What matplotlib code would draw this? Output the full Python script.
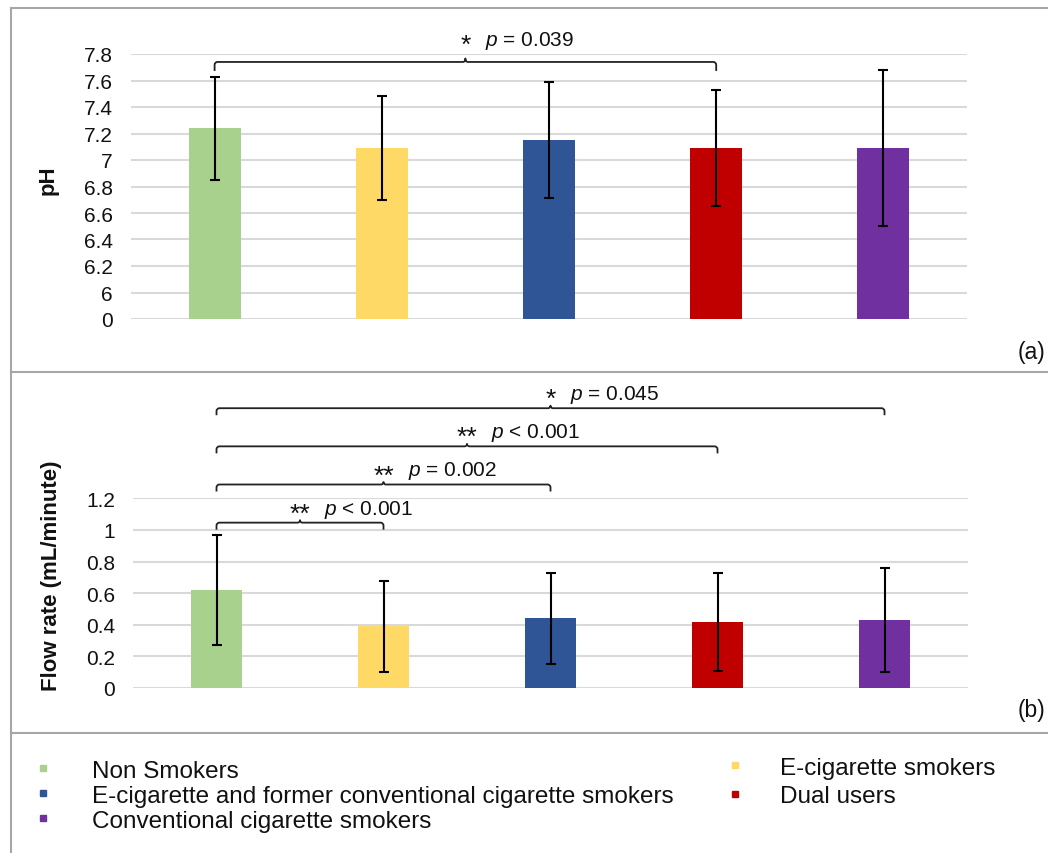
import numpy as np
import matplotlib
matplotlib.use("Agg")
import matplotlib.pyplot as plt
from matplotlib.path import Path
from matplotlib.patches import PathPatch
from matplotlib.lines import Line2D
from matplotlib.transforms import IdentityTransform
from matplotlib.ticker import FuncFormatter, FixedLocator

plt.rcParams['font.family'] = ['Liberation Sans', 'DejaVu Sans']
plt.rcParams['mathtext.fontset'] = 'custom'
plt.rcParams['mathtext.it'] = 'Liberation Sans:italic'
plt.rcParams['mathtext.rm'] = 'Liberation Sans'

# ---------------- data ----------------
groups = ["Non Smokers", "E-cigarette smokers",
          "E-cigarette and former conventional cigarette smokers",
          "Dual users", "Conventional cigarette smokers"]
colors = ["#A9D18E", "#FFD966", "#2F5597", "#C00000", "#7030A0"]

ph_mean = [7.24, 7.09, 7.15, 7.09, 7.09]
ph_sd = [0.39, 0.39, 0.44, 0.44, 0.59]
ph_ticks = [0, 6, 6.2, 6.4, 6.6, 6.8, 7, 7.2, 7.4, 7.6, 7.8]

flow_mean = [0.62, 0.39, 0.44, 0.42, 0.43]
flow_sd = [0.35, 0.29, 0.29, 0.31, 0.33]
flow_ticks = [0, 0.2, 0.4, 0.6, 0.8, 1, 1.2]

ph_comparisons = [(0, 3, "*", "= 0.039")]
flow_comparisons = [(0, 1, "**", "< 0.001"), (0, 2, "**", "= 0.002"),
                    (0, 3, "**", "< 0.001"), (0, 4, "*", "= 0.045")]

# ---------------- layout helpers ----------------
W, H = 1048, 854
fig = plt.figure(figsize=(W / 100, H / 100), dpi=100)


def fx(px):
    return px / W


def fy(py):
    return 1 - py / H


TXT = "#111111"
GRID = "#d9d9d9"


# broken pH scale: 0 -> 0, 6..7.8 linear with 0.2 per step
def fwd(v):
    v = np.asarray(v, dtype=float)
    return np.where(v < 6, v / 6.0, 1 + (v - 6) / 0.2)


def inv(t):
    t = np.asarray(t, dtype=float)
    return np.where(t < 1, t * 6.0, 6 + (t - 1) * 0.2)


axA = fig.add_axes([fx(131), fy(320), fx(967) - fx(131), (320 - 55) / H])
axB = fig.add_axes([fx(133), fy(689), fx(968) - fx(133), (689 - 499.3) / H])

axA.set_yscale('function', functions=(fwd, inv))
axA.set_ylim(0, 7.8)
axB.set_ylim(0, 1.2)

x = np.arange(len(groups))
fmt = FuncFormatter(lambda v, p: "%g" % round(v, 2))

for ax, mean, sd, ticks in [(axA, ph_mean, ph_sd, ph_ticks),
                            (axB, flow_mean, flow_sd, flow_ticks)]:
    ax.bar(x, mean, width=0.31, color=colors, zorder=2)
    ax.errorbar(x, mean, yerr=sd, fmt='none', ecolor='black',
                elinewidth=1.5, capsize=3.8, capthick=1.5, zorder=3)
    ax.set_xlim(-0.5, 4.5)
    ax.yaxis.set_major_locator(FixedLocator(ticks))
    ax.yaxis.set_major_formatter(fmt)
    ax.set_xticks([])
    ax.tick_params(axis='y', length=0, pad=13, labelsize=15, labelcolor=TXT)
    ax.grid(axis='y', color=GRID, linewidth=1.5)
    ax.set_axisbelow(True)
    for s in ax.spines.values():
        s.set_visible(False)

axA.set_ylabel("pH", fontsize=16, fontweight='bold', color=TXT, va='center')
axA.yaxis.set_label_coords((48 - 131) / 836, (320 - 180) / 265)
axB.set_ylabel("Flow rate (mL/minute)", fontsize=16, fontweight='bold',
               color=TXT, va='center')
axB.yaxis.set_label_coords((52 - 133) / 835, (689 - 576) / 189.7)


def bracket(ax, i0, i1, y, hook=7, cusp=3, r=3, stars="*", ptext="",
            gap=9, poff=19):
    X0, Y = ax.transData.transform((i0, y))
    X1, _ = ax.transData.transform((i1, y))
    Xm = (X0 + X1) / 2
    verts = [(X0, Y - hook), (X0, Y - r), (X0, Y), (X0 + r, Y),
             (Xm - 2.5, Y), (Xm, Y), (Xm, Y + cusp), (Xm, Y), (Xm + 2.5, Y),
             (X1 - r, Y), (X1, Y), (X1, Y - r), (X1, Y - hook)]
    codes = [Path.MOVETO, Path.LINETO, Path.CURVE3, Path.CURVE3,
             Path.LINETO, Path.CURVE3, Path.CURVE3, Path.CURVE3, Path.CURVE3,
             Path.LINETO, Path.CURVE3, Path.CURVE3, Path.LINETO]
    patch = PathPatch(Path(verts, codes), transform=IdentityTransform(),
                      fill=False, edgecolor="#222222", linewidth=1.3,
                      capstyle='butt', joinstyle='round')
    fig.add_artist(patch)
    xm = (i0 + i1) / 2
    ax.annotate(stars, xy=(xm, y), xytext=(0, (gap - 7) * 0.72),
                textcoords='offset points', ha='center', va='baseline',
                fontsize=19, color=TXT, annotation_clip=False)
    ax.annotate("$p$ " + ptext, xy=(xm, y), xytext=(poff * 0.72, gap * 0.72),
                textcoords='offset points', ha='left', va='baseline',
                fontsize=15, color=TXT, annotation_clip=False)


for (i0, i1, st, pt) in ph_comparisons:
    bracket(axA, i0, i1, 7.74, hook=9, cusp=3.5, stars=st, ptext=pt,
            gap=17, poff=20)

for k, (i0, i1, st, pt) in enumerate(flow_comparisons):
    bracket(axB, i0, i1, 1.046 + 0.2413 * k, hook=7, cusp=2.5, stars=st,
            ptext=pt, gap=9, poff=14 + 5 * len(st))

# panel letters
fig.text(fx(1045), fy(353), "(a)", ha='right', va='center', fontsize=16.5, color=TXT)
fig.text(fx(1045), fy(711), "(b)", ha='right', va='center', fontsize=16.5, color=TXT)

# frame lines
FR = "#a6a6a6"
for (xs, ys) in [((11, 1048), (9, 9)), ((11, 11), (9, 854)),
                 ((11, 1048), (372.5, 372.5)), ((11, 1048), (734, 734))]:
    fig.add_artist(Line2D([fx(xs[0]), fx(xs[1])], [fy(ys[0]), fy(ys[1])],
                          transform=fig.transFigure, color=FR, linewidth=1.5))

# legend (manual, two columns)
LFS = 17.5
leg_pos = [((43, 769), (92, 770)),     # Non Smokers
           ((735, 766), (780, 767)),   # E-cigarette smokers
           ((43, 794), (92, 795)),     # E-cig + former
           ((735, 795), (780, 795)),   # Dual users
           ((43, 819), (92, 820))]     # Conventional
for g, c, ((mx, my), (tx, ty)) in zip(groups, colors, leg_pos):
    fig.add_artist(Line2D([fx(mx)], [fy(my)], transform=fig.transFigure,
                          marker='s', markersize=4, color=c, linestyle='none'))
    fig.text(fx(tx), fy(ty + 8.5), g, ha='left',
             va='baseline', fontsize=LFS, color=TXT)

fig.savefig("out.png", dpi=100)
